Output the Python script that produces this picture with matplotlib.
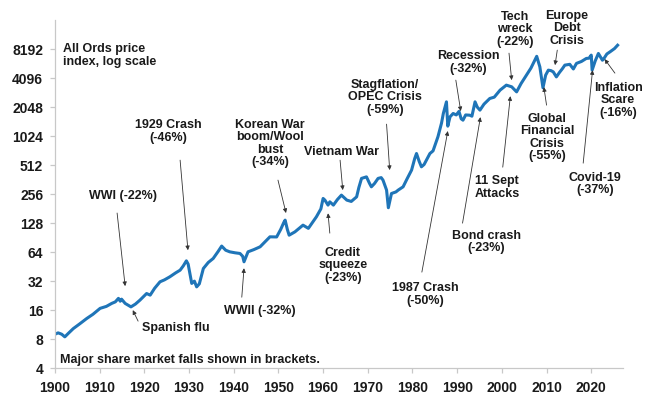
import matplotlib
matplotlib.use("Agg")
import matplotlib.pyplot as plt
import matplotlib.ticker as mticker

# All Ords price index (year, index level)
years = [
	1900.0, 1900.7, 1901.5, 1902.2, 1903.0, 1904.1, 1905.5, 1907.1, 1908.5, 1910.1,
	1911.5, 1912.7, 1913.5, 1914.2, 1914.6, 1914.9, 1915.7, 1917.0, 1918.0, 1919.0,
	1920.5, 1921.3, 1922.3, 1923.5, 1924.5, 1925.7, 1927.0, 1928.0, 1928.7, 1929.4,
	1929.8, 1930.6, 1931.2, 1931.7, 1932.3, 1933.2, 1934.3, 1935.4, 1936.5, 1937.3,
	1938.2, 1939.1, 1940.3, 1941.4, 1942.0, 1942.3, 1943.2, 1944.5, 1945.9, 1947.0,
	1948.1, 1949.6, 1950.5, 1951.2, 1951.5, 1952.0, 1952.4, 1953.7, 1955.5, 1956.7,
	1957.5, 1958.5, 1959.5, 1960.0, 1960.4, 1961.1, 1961.5, 1962.3, 1963.2, 1964.1,
	1965.3, 1966.3, 1967.5, 1968.0, 1968.6, 1969.7, 1970.4, 1970.8, 1971.5, 1972.3,
	1973.0, 1973.4, 1974.2, 1974.6, 1975.3, 1976.3, 1976.8, 1977.9, 1978.8, 1979.8,
	1980.5, 1980.9, 1981.5, 1982.0, 1982.6, 1983.9, 1984.6, 1985.7, 1986.5, 1986.9,
	1987.6, 1987.9, 1988.4, 1989.1, 1989.8, 1990.4, 1990.9, 1991.3, 1991.9, 1992.8,
	1993.3, 1993.8, 1994.0, 1994.5, 1995.1, 1996.0, 1997.3, 1998.3, 1999.6, 2001.0,
	2002.2, 2003.3, 2004.3, 2005.5, 2006.5, 2007.8, 2008.5, 2009.2, 2009.8, 2010.4,
	2011.0, 2011.5, 2012.2, 2012.9, 2013.5, 2014.1, 2015.2, 2016.0, 2016.7, 2017.8,
	2018.9, 2019.5, 2020.0, 2020.2, 2020.9, 2021.6, 2022.5, 2022.7, 2023.5, 2024.2,
	2025.2, 2025.9,
]
index_level = [
	9.0, 9.3, 9.0, 8.45, 9.2, 10.3, 11.5, 13.1, 14.5, 16.7,
	17.5, 18.8, 19.5, 21.2, 19.8, 20.8, 18.8, 17.3, 18.5, 20.3,
	23.8, 22.9, 27, 31.5, 33, 35.5, 39, 41.6, 46, 52,
	48, 30.3, 32, 27.9, 30, 43.3, 50, 55, 65, 74,
	67, 64.5, 63, 62, 58, 50.8, 64.5, 68, 72.7, 82,
	92.3, 92, 110, 130, 137.5, 110, 96, 104, 122, 113,
	128, 149, 180, 231, 222, 197, 213, 197, 225, 250,
	222, 215, 240, 300, 373, 387, 330, 305, 330, 373,
	380, 358, 282, 185, 260, 270, 282, 305, 370, 455,
	600, 676, 560, 492, 520, 676, 720, 1010, 1400, 1759,
	2325, 1300, 1625, 1760, 1700, 1850, 1550, 1500, 1700, 1690,
	1650, 2100, 2325, 2050, 1907, 2200, 2520, 2600, 3075, 3466,
	3330, 2950, 3600, 4400, 5200, 6900, 5370, 3250, 4400, 4960,
	4900, 4760, 4220, 4700, 5100, 5590, 5700, 5100, 5830, 6100,
	6560, 6600, 7100, 4960, 6200, 7390, 6290, 6400, 7300, 7680,
	8300, 9000,
]

y_ticks = [4, 8, 16, 32, 64, 128, 256, 512, 1024, 2048, 4096, 8192]
x_ticks = [1900, 1910, 1920, 1930, 1940, 1950, 1960, 1970, 1980, 1990, 2000, 2010, 2020]

# event labels: text, text centre (year, level), arrow start, arrow tip
event_labels = [
	"1929 Crash\n(-46%)", "WWI (-22%)", "Spanish flu", "Korean War\nboom/Wool\nbust\n(-34%)",
	"Vietnam War", "Stagflation/\nOPEC Crisis\n(-59%)", "Credit\nsqueeze\n(-23%)", "WWII (-32%)",
	"1987 Crash\n(-50%)", "Bond crash\n(-23%)", "11 Sept\nAttacks", "Recession\n(-32%)",
	"Tech\nwreck\n(-22%)", "Europe\nDebt\nCrisis", "Global\nFinancial\nCrisis\n(-55%)",
	"Inflation\nScare\n(-16%)", "Covid-19\n(-37%)",
]
label_pos = [
	(1925.3, 1140), (1915.2, 244), (1919.5, 10.4), (1948.1, 856),
	(1964.2, 699), (1973.8, 2600), (1964.4, 46.9), (1945.9, 15.6),
	(1982.8, 23.2), (1996.6, 81.3), (1998.9, 299), (1992.4, 5932),
	(2002.9, 13200), (2014.5, 13530), (2010.1, 988),
	(2026.0, 2420), (2020.8, 325),
]
label_ha = [
	"center", "center", "left", "center",
	"center", "center", "center", "center",
	"center", "center", "center", "center",
	"center", "center", "center",
	"center", "center",
]
arrow_start = [
	(1928.0, 577), (1913.9, 163), (1918.6, 12.3), (1949.9, 358),
	(1963.8, 577), (1974.2, 1364), (1961.5, 100.8), (1941.8, 21.8),
	(1982.1, 39.7), (1991.2, 128), (2000.2, 488), (1989.7, 3905),
	(2001.6, 7445), (2012.4, 8000), (2010.0, 2148),
	(2025.3, 4617), (2018.2, 537),
]
arrow_tip = [
	(1929.75, 67), (1915.7, 28.4), (1917.4, 16), (1951.7, 163),
	(1964.4, 282), (1974.9, 455), (1961.1, 162), (1942.3, 43.6),
	(1987.9, 1157), (1995.2, 1613), (2001.9, 2664), (1990.8, 1860),
	(2002.2, 3905), (2011.9, 5590), (2009.4, 3304),
	(2023.0, 6450), (2020.3, 4960),
]


def main():

	plt.rcParams["font.family"] = ["Liberation Sans", "DejaVu Sans"]
	plt.rcParams["font.weight"] = "bold"

	fig = plt.figure(figsize = (6.5, 3.95), dpi = 100)
	ax = fig.add_axes([0.0846, 0.068, 0.8738, 0.881])

	ax.plot(years, index_level, color = "#1f75b8", lw = 2.2, solid_joinstyle = "round")

	ax.set_yscale("log", base = 2)
	ax.set_ylim(4, 16384)
	ax.set_xlim(1900, 2027.1)
	ax.set_yticks(y_ticks)
	ax.yaxis.set_major_formatter(mticker.FuncFormatter(lambda v, p: "%d" % v))
	ax.yaxis.set_minor_locator(mticker.NullLocator())
	ax.set_xticks(x_ticks)

	for side in ["top", "right"]:
		ax.spines[side].set_visible(False)
	#end_for
	for side in ["left", "bottom"]:
		ax.spines[side].set_color("#c8c8c8")
		ax.spines[side].set_linewidth(0.9)
	#end_for

	ax.tick_params(axis = "both", colors = "#c8c8c8", labelcolor = "#1a1a1a", labelsize = 10, length = 3.5, width = 0.9)
	ax.tick_params(axis = "x", pad = 6)
	ax.tick_params(axis = "y", pad = 5)
	for lab in ax.get_xticklabels() + ax.get_yticklabels():
		lab.set_fontweight("bold")
	#end_for

	for text, pos, ha, start, tip in zip(event_labels, label_pos, label_ha, arrow_start, arrow_tip):
		ax.annotate("", xy = tip, xytext = start,
			arrowprops = dict(arrowstyle = "-|>", color = "#333333", lw = 0.6, mutation_scale = 6, shrinkA = 0, shrinkB = 0))
		ax.text(pos[0], pos[1], text, ha = ha, va = "center", fontsize = 9, fontweight = "bold",
			color = "#1a1a1a", linespacing = 1.05, multialignment = "center")
	#end_for

	ax.text(1901.8, 7016, "All Ords price\nindex, log scale", ha = "left", va = "center", fontsize = 9,
		fontweight = "bold", color = "#1a1a1a", linespacing = 1.05)
	ax.text(1901.1, 4.84, "Major share market falls shown in brackets.", ha = "left", va = "center",
		fontsize = 9, fontweight = "bold", color = "#1a1a1a")

	fig.savefig("out.png", dpi = 100)

#end_def


main()
